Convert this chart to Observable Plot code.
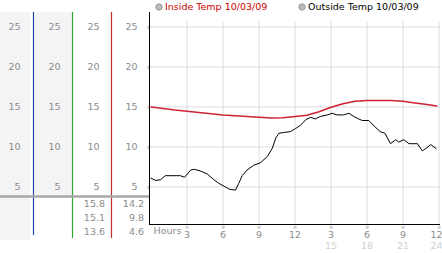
<!DOCTYPE html>
<html>
<head>
<meta charset="utf-8">
<script src="https://cdn.jsdelivr.net/npm/d3@7"></script>
<script src="https://cdn.jsdelivr.net/npm/@observablehq/plot@0.6"></script>
<style>
  html, body { margin: 0; padding: 0; background: #fff; }
  svg { display: block; }
</style>
</head>
<body>
<script>
// ---- data ----
const insideHours = [0, 1, 2, 3, 4, 5, 6, 7, 8, 9, 10, 11, 12, 13, 14, 15, 16, 17, 18, 19, 20, 21, 22, 23, 23.8];
const insideTemp  = [15.0, 14.8, 14.6, 14.45, 14.3, 14.15, 14.0, 13.9, 13.8, 13.7, 13.6, 13.65, 13.8, 13.95, 14.4, 14.95, 15.4, 15.7, 15.8, 15.8, 15.8, 15.7, 15.5, 15.3, 15.1];

const outsideHours = [0, 0.4, 0.8, 1.2, 2.45, 2.8, 3.3, 3.6, 4.1, 4.7, 5.2, 5.65, 6.2, 6.55, 7.05, 7.3, 7.6, 8.0, 8.55, 9.1, 9.7, 10.1, 10.4, 10.65, 11.05, 11.6, 12.05, 12.45, 12.9, 13.3, 13.7, 14.1, 14.7, 15.1, 15.5, 16.05, 16.5, 16.9, 17.3, 17.6, 18.15, 18.6, 19.1, 19.5, 19.95, 20.4, 20.65, 21.05, 21.5, 22.2, 22.6, 22.9, 23.3, 23.75];
const outsideTemp  = [6.1, 5.8, 5.9, 6.4, 6.4, 6.2, 7.1, 7.2, 7.0, 6.6, 5.95, 5.45, 5.0, 4.7, 4.6, 5.4, 6.4, 7.1, 7.7, 8.0, 8.8, 9.8, 11.1, 11.7, 11.8, 11.9, 12.3, 12.7, 13.4, 13.7, 13.5, 13.8, 14.0, 14.2, 14.0, 14.0, 14.2, 13.8, 13.5, 13.3, 13.3, 12.6, 11.9, 11.7, 10.4, 10.9, 10.6, 10.9, 10.4, 10.4, 9.5, 9.8, 10.3, 9.8];

const yTicks = [5, 10, 15, 20, 25];
const xTicks = [3, 6, 9, 12, 15, 18, 21, 24];
const xTickLabels = ["3", "6", "9", "12", "3", "6", "9", "12"];
const xTicks2 = [15, 18, 21, 24];
const xTickLabels2 = ["15", "18", "21", "24"];
const insideStats = [15.8, 15.1, 13.6];
const outsideStats = [14.2, 9.8, 4.6];
const seriesNames = ["Inside Temp 10/03/09", "Outside Temp 10/03/09"];

const insideData = insideHours.map((h, i) => ({h, v: insideTemp[i]}));
const outsideData = outsideHours.map((h, i) => ({h, v: outsideTemp[i]}));

const X0 = -0.12, Y0 = 0.3;
const labelGray = "#8c8c8c";
const colOffsets = [-129, -89, -50, -12];

const plot = Plot.plot({
  width: 442, height: 253,
  marginLeft: 149, marginRight: 2, marginTop: 12, marginBottom: 29,
  x: {domain: [X0, 24.12], axis: null},
  y: {domain: [Y0, 26.8], axis: null},
  style: {fontFamily: "'DejaVu Sans', sans-serif", fontSize: "9.5px", background: "transparent", overflow: "visible"},
  marks: [
    Plot.ruleY(yTicks, {stroke: "#dcdcdc"}),
    Plot.ruleX(xTicks, {y1: Y0, y2: 25.65, stroke: "#dcdcdc"}),
    ...colOffsets.map(dx => Plot.text(yTicks, {y: d => d, frameAnchor: "left", dx, textAnchor: "end", fill: labelGray, text: d => String(d)})),
    Plot.text(yTicks, {y: d => d, frameAnchor: "left", dx: -3, text: () => "※", fontSize: 5, fill: "#aaa"}),
    Plot.line(insideData, {x: "h", y: "v", stroke: "#cc2233", strokeWidth: 1.5}),
    Plot.line(outsideData, {x: "h", y: "v", stroke: "#000", strokeWidth: 1}),
    Plot.ruleX([X0], {stroke: "#000"}),
    Plot.ruleY([Y0], {stroke: "#000"}),
    Plot.text(xTicks, {x: d => d, frameAnchor: "bottom", dy: 4.5, text: () => "※", fontSize: 5, fill: "#aaa"}),
    Plot.text(xTicks.slice(0, -1), {x: d => d, frameAnchor: "bottom", dy: 13.5, text: (d, i) => xTickLabels[i], fill: labelGray}),
    Plot.text(xTicks.slice(-1), {x: d => d, frameAnchor: "bottom", dy: 13.5, dx: -2.5, text: () => xTickLabels[xTickLabels.length - 1], fill: labelGray}),
    Plot.text(xTicks2.slice(0, -1), {x: d => d, frameAnchor: "bottom", dy: 24, text: (d, i) => xTickLabels2[i], fill: "#d0d0d0"}),
    Plot.text(xTicks2.slice(-1), {x: d => d, frameAnchor: "bottom", dy: 24, dx: -2.5, text: () => xTickLabels2[xTickLabels2.length - 1], fill: "#d0d0d0"}),
    Plot.text(["Hours"], {frameAnchor: "bottom-left", dx: 4, dy: 9, textAnchor: "start", fill: labelGray})
  ]
});

document.body.appendChild(plot);

// ---- decorations of the left panel ----
const svg = d3.select(plot);
const deco = svg.insert("g", ":first-child");
deco.append("rect").attr("x", 0).attr("y", 12).attr("width", 30).attr("height", 228).attr("fill", "#f4f4f4");
deco.append("rect").attr("x", 35).attr("y", 12).attr("width", 37).attr("height", 184).attr("fill", "#f4f4f4");
deco.append("line").attr("x1", 33.5).attr("x2", 33.5).attr("y1", 12).attr("y2", 235).attr("stroke", "#1f44b0").attr("stroke-width", 1.2);
deco.append("line").attr("x1", 72.5).attr("x2", 72.5).attr("y1", 12).attr("y2", 238).attr("stroke", "#2fa82f").attr("stroke-width", 1.2);
deco.append("line").attr("x1", 111.5).attr("x2", 111.5).attr("y1", 12).attr("y2", 238).attr("stroke", "#c03030").attr("stroke-width", 1.2);
deco.append("line").attr("x1", 0).attr("x2", 149).attr("y1", 196.5).attr("y2", 196.5).attr("stroke", "#a8a8a8").attr("stroke-width", 2.5);

const stats = svg.append("g").attr("fill", labelGray).attr("text-anchor", "end")
  .attr("font-family", "'DejaVu Sans', sans-serif").attr("font-size", "9.5px");
insideStats.forEach((v, i) => stats.append("text").attr("x", 105).attr("y", 204 + 14 * i).attr("dy", "0.32em").text(v.toFixed(1)));
outsideStats.forEach((v, i) => stats.append("text").attr("x", 144).attr("y", 204 + 14 * i).attr("dy", "0.32em").text(v.toFixed(1)));

// ---- legend ----
const leg = svg.append("g").attr("font-family", "'DejaVu Sans', sans-serif").attr("font-size", "9.5px").attr("text-anchor", "start");
[[159, "#cc0000"], [302, "#000"]].forEach(([x, c], i) => {
  leg.append("circle").attr("cx", x).attr("cy", 7).attr("r", 3.2).attr("fill", "#bbb").attr("stroke", "#999");
  leg.append("text").attr("x", x + 6).attr("y", 7).attr("dy", "0.35em").attr("fill", c).text(seriesNames[i]);
});
</script>
</body>
</html>
